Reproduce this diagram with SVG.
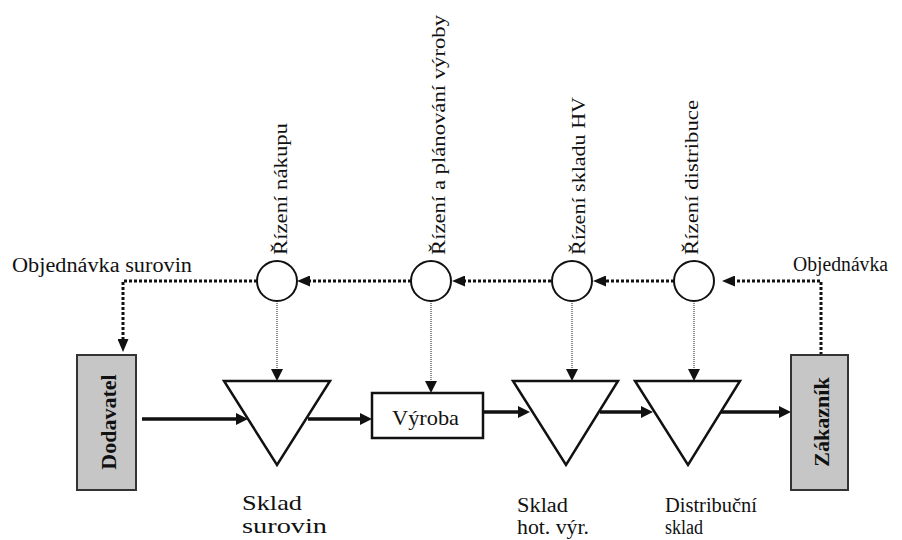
<svg xmlns="http://www.w3.org/2000/svg" width="902" height="540" viewBox="0 0 902 540">
  <defs>
    <style>
      .lbl { font-size: 20px; }
      .vlbl { font-size: 18px; }
      .big { font-size: 21px; }
      .bold { font-size: 22px; font-weight: bold; }
      .box { fill: #c6c6c6; stroke: #333; stroke-width: 2; }
      .wbox { fill: #fff; stroke: #111; stroke-width: 2.5; }
      .tri { fill: #fff; stroke: #111; stroke-width: 2.5; stroke-linejoin: miter; }
      .circ { fill: #fff; stroke: #111; stroke-width: 2; }
      .flow { fill: none; stroke: #111; stroke-width: 3.5; marker-end: url(#ahFlow); }
      .info { fill: none; stroke: #111; stroke-width: 3; stroke-dasharray: 3 2; marker-end: url(#ahInfo); }
      .ctrl { fill: none; stroke: #444; stroke-width: 1.2; stroke-dasharray: 1 1; marker-end: url(#ahCtrl); }
    </style>
    <marker id="ahFlow" viewBox="0 0 12 12" refX="2" refY="6" markerWidth="12" markerHeight="12" markerUnits="userSpaceOnUse" orient="auto">
      <path d="M0,0 L12,6 L0,12 z" fill="#111"/>
    </marker>
    <marker id="ahInfo" viewBox="0 0 13 11" refX="3" refY="5.5" markerWidth="13" markerHeight="11" markerUnits="userSpaceOnUse" orient="auto">
      <path d="M0,0 L13,5.5 L0,11 z" fill="#111"/>
    </marker>
    <marker id="ahCtrl" viewBox="0 0 12 12" refX="0" refY="6" markerWidth="12" markerHeight="12" markerUnits="userSpaceOnUse" orient="auto">
      <path d="M0,0 L12,6 L0,12 z" fill="#111"/>
    </marker>
  </defs>

  <g id="connectors">
    <path class="flow" d="M142,419 H238"/>
    <path class="flow" d="M308,419 H362"/>
    <path class="flow" d="M483,412 H520"/>
    <path class="flow" d="M600,412 H643"/>
    <path class="flow" d="M721,412 H781"/>
    <path class="info" d="M821,355 V281 H732"/>
    <path class="info" d="M674,281 H603"/>
    <path class="info" d="M551,281 H462"/>
    <path class="info" d="M411,281 H307"/>
    <path class="info" d="M257,281 H123 V342"/>
    <path class="ctrl" d="M277,301 V369"/>
    <path class="ctrl" d="M431,301 V381"/>
    <path class="ctrl" d="M572,301 V369"/>
    <path class="ctrl" d="M694,301 V369"/>
  </g>

  <g font-family="Liberation Serif, Times New Roman, DejaVu Serif, serif" fill="#111">
  <g id="dodavatel">
    <rect class="box" x="77" y="355" width="59" height="135"/>
    <text class="bold" transform="translate(116,422) rotate(-90)" text-anchor="middle">Dodavatel</text>
  </g>
  <g id="zakaznik">
    <rect class="box" x="791" y="355" width="57" height="135"/>
    <text class="bold" transform="translate(829,422) rotate(-90)" text-anchor="middle">Zákazník</text>
  </g>

  <g id="sklad-surovin">
    <polygon class="tri" points="224,381 330,381 277,465"/>
    <text class="big" x="242" y="510" textLength="60" lengthAdjust="spacingAndGlyphs">Sklad</text>
    <text class="big" x="242" y="533" textLength="85" lengthAdjust="spacingAndGlyphs">surovin</text>
  </g>
  <g id="vyroba">
    <rect class="wbox" x="372" y="393" width="111" height="45"/>
    <text class="lbl" x="392" y="425" textLength="67" lengthAdjust="spacingAndGlyphs" style="font-size:21px">Výroba</text>
  </g>
  <g id="sklad-hv">
    <polygon class="tri" points="513,381 618,381 566,465"/>
    <text class="lbl" x="517" y="512" textLength="51" lengthAdjust="spacingAndGlyphs">Sklad</text>
    <text class="lbl" x="517" y="534" textLength="72" lengthAdjust="spacingAndGlyphs">hot. výr.</text>
  </g>
  <g id="distribucni-sklad">
    <polygon class="tri" points="635,381 740,381 688,465"/>
    <text class="lbl" x="665" y="512" textLength="92" lengthAdjust="spacingAndGlyphs">Distribuční</text>
    <text class="lbl" x="665" y="534" textLength="38" lengthAdjust="spacingAndGlyphs">sklad</text>
  </g>

  <g id="rizeni-nakupu">
    <circle class="circ" cx="277" cy="281" r="20"/>
    <text class="vlbl" transform="translate(287,255) rotate(-90)" textLength="132" lengthAdjust="spacingAndGlyphs">Řízení nákupu</text>
  </g>
  <g id="rizeni-vyroby">
    <circle class="circ" cx="431" cy="281" r="20"/>
    <text class="vlbl" transform="translate(445,255) rotate(-90)" textLength="240" lengthAdjust="spacingAndGlyphs">Řízení a plánování výroby</text>
  </g>
  <g id="rizeni-skladu">
    <circle class="circ" cx="572" cy="281" r="20"/>
    <text class="vlbl" transform="translate(585,255) rotate(-90)" textLength="158" lengthAdjust="spacingAndGlyphs">Řízení skladu HV</text>
  </g>
  <g id="rizeni-distribuce">
    <circle class="circ" cx="694" cy="281" r="20"/>
    <text class="vlbl" transform="translate(698,255) rotate(-90)" textLength="155" lengthAdjust="spacingAndGlyphs">Řízení distribuce</text>
  </g>

  <g id="labels">
    <text class="lbl" x="12" y="272" textLength="180" lengthAdjust="spacingAndGlyphs">Objednávka surovin</text>
    <text class="lbl" x="793" y="271" textLength="95" lengthAdjust="spacingAndGlyphs">Objednávka</text>
  </g>
  </g>
</svg>
